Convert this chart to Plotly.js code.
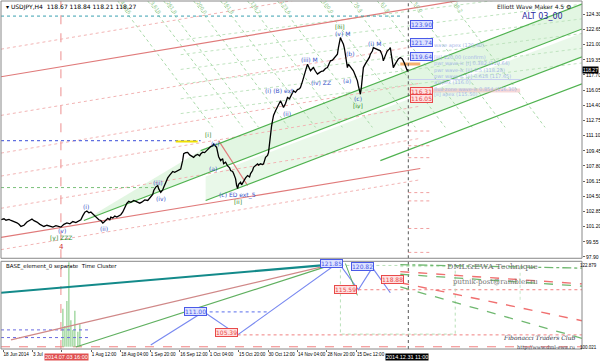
<!DOCTYPE html>
<html><head><meta charset="utf-8">
<script src="https://cdn.plot.ly/plotly-3.0.1.min.js"></script>
<style>html,body{margin:0;padding:0;background:#fff}#c{width:600px;height:361px}</style>
</head><body><div id="c"></div>
<script>
// ---- time axis (bar positions) ----
const tickPos = [2,31.5,61,90.5,120,149.5,179,208.5,238,267.5,297,326.5,356];
const tickText = ["18 Jun 2014","3 Jul","","1 Aug 12:00","18 Aug 04:00","1 Sep 20:00","16 Sep 12:00","1 Oct 04:00","15 Oct 20:00","30 Oct 12:00","14 Nov 04:00","28 Nov 20:00","15 Dec 12:00"];
const mainTicks = [124.30,122.65,121.00,119.35,117.70,116.05,114.40,112.75,111.10,109.45,107.80,106.15,104.50,102.85,101.20,99.55,97.90];

// ---- USDJPY H4 price path ----
const priceX = [0,3,5,8,10,13,16,18,20,23,26,29,31,33,36,39,41,43,46,49,52,55,58,60,63,66,69,72,75,78,80,82,84,86,88,90,92,94,96,98,100,102,103,105,107,109,110,112,114,116,118,120,122,124,126,128,130,133,136,139,141,144,147,150,152,153,155,157,158,160,162,163,165,167,169,170,172,174,176,178,180,182,183,185,187,189,191,193,195,197,199,200,202,204,206,208,210,212,213,215,216,217,218,220,222,223,225,227,229,230,232,233,235,236,237,238,240,241,243,245,247,249,250,252,253,255,257,258,260,262,263,265,267,268,269,270,271,272,273,275,277,279,280,282,283,285,287,289,291,293,295,297,299,300,302,304,306,307,309,310,312,313,315,317,319,321,323,325,327,329,330,332,333,335,337,338,339,340,341,343,344,345,346,347,348,350,352,353,355,357,358,359,360,361,362,363,365,367,369,370,372,373,375,377,379,380,382,383,385,387,389,390,391,392,393,395,397,398,400,402,404,405,406,407,408];
const priceY = [101.95,102.05,101.90,101.98,101.87,101.75,101.62,101.45,101.22,101.35,101.70,101.90,102.02,101.85,101.70,101.45,101.30,101.22,101.35,101.28,101.15,101.30,101.20,101.15,101.45,101.60,101.50,101.75,101.65,101.87,101.95,102.40,102.78,102.90,102.70,102.78,102.55,102.40,102.10,101.95,101.87,101.60,101.69,101.95,102.10,101.95,102.23,102.15,102.35,102.25,102.42,102.50,102.80,103.30,103.72,103.95,103.85,104.04,103.90,103.75,103.86,104.10,104.05,104.40,104.70,105.13,105.50,105.67,105.30,104.94,105.20,105.49,106.10,106.50,106.80,106.97,107.20,107.10,107.25,107.30,107.45,108.40,109.14,109.25,109.28,109.00,108.85,108.74,108.95,109.05,108.90,109.11,109.30,109.25,109.47,109.70,109.90,110.01,110.19,109.95,109.83,109.30,108.80,108.38,108.60,108.06,108.20,107.80,107.60,107.30,107.20,106.97,106.40,105.70,105.35,105.80,106.03,105.75,106.21,106.50,106.76,106.60,106.97,107.30,107.66,107.85,108.03,107.90,108.03,107.95,108.03,108.74,108.95,109.28,110.50,111.31,112.10,112.72,113.30,113.81,114.30,114.60,114.89,114.40,114.17,114.60,115.25,115.10,115.60,115.98,115.80,116.10,116.20,116.33,117.00,117.80,118.40,118.87,118.40,118.15,118.40,118.50,118.10,117.79,117.95,118.10,118.15,118.40,118.50,118.90,119.23,119.30,119.42,119.70,119.96,120.67,121.20,121.76,121.50,121.04,120.60,119.96,119.20,118.50,118.87,118.60,118.40,118.15,117.60,117.06,116.50,115.98,115.60,116.40,117.42,118.50,118.90,119.23,119.60,119.96,120.30,120.67,120.55,120.50,120.40,120.32,119.80,119.23,119.80,120.32,120.50,120.67,119.90,119.20,118.50,118.90,119.23,119.45,119.59,119.45,119.00,118.69,118.40,118.15,118.27];

// ---- channel lines on the price panel (start/end bar, start/end price) ----
const redSolidX = [[0,582],[0,420],[218,247]];
const redSolidY = [[117.50,128.02],[100.03,107.52],[110.55,105.67]];
const greenChanX = [[200,582],[83,582],[205,582],[380,582]];
const greenChanY = [[109.47,125.41],[101.87,122.70],[104.04,119.67],[108.38,116.74]];
const pinkDotX = [[0,420],[0,420],[0,420],[0,420],[0,420],[0,420]];
const pinkDotY = [[120.50,128.1],[113.30,120.9],[109.20,116.8],[106.70,114.3],[103.20,110.8],[98.70,106.3]];
const fanTopX = [117,147,163,193,220,247,277,320,350,377,410,450];
const fanLabels = ["4.236","3.618","261.8","200.0","161.8","138.2","123.6","100.0","76.4","61.8","50.0","38.2"];

// ---- lower panel (Time Cluster) ----
const tealX=[0,330], tealY=[114.68,122.01];
const lowRedX=[10,335], lowRedY=[102.38,122.28];
const lowGreenX=[75,335], lowGreenY=[100.54,122.28];
const blueZigX=[150,203,237,338,358,372,390];
const blueZigY=[101.09,109.72,103.70,122.54,115.47,121.23,114.68];
const projRedX=[[400,582],[400,582]], projRedY=[[117.30,107.40],[120.20,117.00]];
const projGreenX=[[400,582],[400,582],[400,582]], projGreenY=[[116.20,102.80],[122.00,121.10],[119.50,116.40]];
const clusterX=[62,64,66,68,70,72,74,77,79];
const clusterH=[110.5,106.0,112.5,122.6,107.5,105.0,110.0,104.5,106.5];

const traces=[];
function seg(xs,ys,color,width,dash,ax,opacity){
  traces.push({x:xs,y:ys,type:'scatter',mode:'lines',yaxis:ax||'y',hoverinfo:'skip',showlegend:false,
    opacity:opacity==null?1:opacity,line:{color:color,width:width,dash:dash||'solid'}});
}
traces.push({x:greenChanX[1],y:greenChanY[1],type:'scatter',mode:'lines',line:{width:0},hoverinfo:'skip',showlegend:false});
traces.push({x:greenChanX[0],y:greenChanY[0],type:'scatter',mode:'lines',line:{width:0},fill:'tonexty',fillcolor:'rgba(190,235,190,0.45)',hoverinfo:'skip',showlegend:false});
traces.push({x:greenChanX[2],y:greenChanY[2],type:'scatter',mode:'lines',line:{width:0},hoverinfo:'skip',showlegend:false});
traces.push({x:[greenChanX[2][0],greenChanX[2][1]],y:[greenChanY[2][0]+2.6,greenChanY[2][1]+2.6],type:'scatter',mode:'lines',line:{width:0},fill:'tonexty',fillcolor:'rgba(200,238,200,0.40)',hoverinfo:'skip',showlegend:false});

pinkDotX.forEach((xs,i)=>seg(xs,pinkDotY[i],'#f2b4b4',1,'dot'));
fanTopX.forEach((x0,i)=>seg([x0,x0+95],[125.74,112.0],'#a9d9a9',1,'dot'));
for(let k=0;k<6;k++){seg([180,582],[113.5+k*1.6,129.0+k*1.6-10],'#bfe3bf',1,'dot');}
redSolidX.forEach((xs,i)=>seg(xs,redSolidY[i],'#e07a7a',1.2));
greenChanX.forEach((xs,i)=>seg(xs,greenChanY[i],'#4fb24f',1.2));
seg([0,400],[124.10,124.10],'#3aa0b0',1,'dot');
seg([0,200],[110.55,110.55],'#6070e0',1.2,'dot');
seg([0,155],[105.45,105.45],'#7ac07a',1,'dot');
seg([175,197],[110.45,110.45],'#f0e000',2);
seg([400,420],[118.90,118.90],'#f5b070',3);
[111.6,110.0,108.7,104.9,104.0,101.0,98.4].forEach(v=>seg([408,430],[v,v],'#f0a0a0',1,'dot'));
seg([408,520],[116.0,116.0],'#f0b0b0',4,'solid',null,0.5);
seg([408,520],[117.2,117.2],'#c8d0f0',1);
traces.push({x:priceX,y:priceY,type:'scatter',mode:'lines',line:{color:'#000',width:1.3},hoverinfo:'skip',showlegend:false});
seg([408,408],[97.76,125.74],'#555',1,'dot');
seg([60,60],[97.76,125.74],'#f0a0a0',1.2,'dash');

seg([60,60],[100.021,122.879],'#f0a0a0',1.2,'dash','y2');
seg([408,408],[100.021,122.879],'#555',1,'dot','y2');
seg([0,582],[100.6,100.6],'#f08080',1,'dash','y2');
clusterX.forEach((x,i)=>seg([x,x],[100.6,clusterH[i]],'#8fd08f',1.2,'solid','y2'));
seg([0,90],[105.0,105.0],'#6a6ae0',1,'dot','y2');
seg([0,90],[103.0,103.0],'#6a6ae0',1,'dot','y2');
seg(lowRedX,lowRedY,'#d08888',1.2,'solid','y2');
seg(lowGreenX,lowGreenY,'#60b060',1.2,'solid','y2');
seg(tealX,tealY,'#138a8a',2.2,'solid','y2');
seg(blueZigX,blueZigY,'#7a8af0',1.2,'solid','y2');
seg([203,267],[109.72,109.72],'#7a8af0',1.2,'dot','y2');
seg([237,582],[103.70,103.70],'#f08080',1,'dot','y2');
seg([358,582],[115.47,115.47],'#f08080',1,'dot','y2');
seg([340,455,455,340,340],[121.8,121.8,103.9,103.9,121.8],'#b8e0b8',1,'dot','y2');
seg([400,520,520],[121.5,121.5,112.0],'#c8e8c8',1,'dot','y2');
projRedX.forEach((xs,i)=>seg(xs,projRedY[i],'#f07070',1.4,'dash','y2'));
projGreenX.forEach((xs,i)=>seg(xs,projGreenY[i],'#70b870',1.3,i==1?'dashdot':'dash','y2'));
seg([345,357],[122.3,114.0],'#60b060',1,'solid','y2');

const A=[];
function lab(x,y,t,c,sz,ax,extra){A.push(Object.assign({x:x,y:y,xref:'x',yref:ax||'y',text:t,showarrow:false,font:{family:'DejaVu Sans',size:sz||6,color:c||'#3a55c8'}},extra||{}));}
function ppx(yp){return 125.74-0.10848*yp;}
lab(60,ppx(238),'[y] ZZZ','#2a8a2a');
lab(61,ppx(230),'(v)');
lab(61,ppx(247),'4','#d03030',7);
lab(85,ppx(206),'(i)');
lab(103,ppx(228),'(ii)');
lab(157,ppx(182),'(iii)');
lab(160,ppx(198),'(iv)');
lab(207,ppx(134),'[i]','#2a8a2a');
lab(214,ppx(143),'(v)');
lab(212,ppx(168),'(a)');
lab(237,ppx(194),'(c) ED ext_5');
lab(237,ppx(201),'[ii]','#2a8a2a');
lab(279,ppx(90),'(i) (B) ext');
lab(286,ppx(113),'(ii)');
lab(309,ppx(59),'(iii) M');
lab(321,ppx(82),'(iv) ZZ');
lab(350,ppx(53),'(b)');
lab(347,ppx(80),'(a)');
lab(340,ppx(26),'[iii]','#2a8a2a');
lab(342,ppx(33),'(v) M');
lab(358,ppx(98),'(c)');
lab(358,ppx(105),'[iv]','#2a8a2a');
lab(374,ppx(43),'(i) M');
fanTopX.forEach((x0,i)=>lab(x0+8,ppx(6),fanLabels[i],'#8cc88c',5,'y',{textangle:55}));
[['123.90',24,'#4a5ae8','#dde2ff'],['121.74',42,'#4a5ae8','#dde2ff'],['119.64',56,'#4a5ae8','#dde2ff'],['116.31',91,'#e84a4a','#ffe0e0'],['116.05',98,'#e84a4a','#ffe0e0']].forEach(b=>{
  lab(421,ppx(b[1]),b[0],b[2],6,'y',{bgcolor:b[3],bordercolor:b[2],borderwidth:1,borderpad:0});
});
[['wave apex (120.40)',45],['[iii] 120.00 (confirm)',56],['pwr wave-ic [i] 0.382 (119.64)',63],['pwr wave-ic [ii] 0.5 (118.28)',70],['pwr wave-ic [ii] 0.618 (117.65)',76],['a.apex (116.0)',82],['flux zone wave-ic 0.854 (116.30)',88],['[ii] apex (115.50)',94]].forEach(t=>{
  lab(432,ppx(t[1]),t[0],'#a8b8e8',5,'y',{xanchor:'left'});
});
A.push({xref:'paper',yref:'paper',x:0.005,y:1,xanchor:'left',yanchor:'top',text:'▾ USDJPY,H4  118.67 118.84 118.21 118.27',showarrow:false,font:{family:'DejaVu Sans',size:6,color:'#000'}});
A.push({xref:'paper',yref:'paper',x:0.985,y:1,xanchor:'right',yanchor:'top',text:'Elliott Wave Maker 4.5 ⚙',showarrow:false,font:{family:'DejaVu Sans',size:6,color:'#222'}});
A.push({xref:'paper',yref:'paper',x:0.97,y:0.975,xanchor:'right',yanchor:'top',text:'ALT 03_00',showarrow:false,font:{family:'DejaVu Sans',size:8,color:'#2a2aa0'}});
A.push({xref:'paper',yref:'y',x:1,y:118.27,xanchor:'left',text:'118.27',showarrow:false,bgcolor:'#000',font:{family:'Liberation Sans',size:5,color:'#fff'},borderpad:0});
A.push({xref:'paper',yref:'paper',x:0.005,y:0.252,xanchor:'left',yanchor:'top',text:'BASE_element_0 separate  Time Cluster',showarrow:false,font:{family:'DejaVu Sans',size:5.5,color:'#000'}});
A.push({xref:'x',yref:'y2',x:540,y:121.4,xanchor:'right',text:'DML&EWA Technique',showarrow:false,font:{family:'DejaVu Serif',size:8,color:'#777'}});
A.push({xref:'x',yref:'y2',x:540,y:117.6,xanchor:'right',text:'putnik-post@rambler.ru',showarrow:false,font:{family:'DejaVu Serif',size:7,color:'#777'}});
A.push({xref:'x',yref:'y2',x:578,y:102.9,xanchor:'right',text:'<i>Fibonacci Traders Club</i>',showarrow:false,font:{family:'DejaVu Serif',size:6,color:'#334'}});
A.push({xref:'x',yref:'y2',x:578,y:100.5,xanchor:'right',text:'http://www.dml-ewa.ru',showarrow:false,font:{family:'DejaVu Serif',size:5,color:'#334'}});
lab(195,109.72,'111.00','#4a5ae8',6,'y2',{bgcolor:'#dde2ff',bordercolor:'#4a5ae8',borderwidth:1,borderpad:0});
lab(226,104.3,'105.39','#e84a4a',6,'y2',{bgcolor:'#ffe0e0',bordercolor:'#e84a4a',borderwidth:1,borderpad:0});
lab(331,122.3,'121.85','#4a5ae8',6,'y2',{bgcolor:'#dde2ff',bordercolor:'#4a5ae8',borderwidth:1,borderpad:0});
lab(345,115.47,'115.59','#e84a4a',6,'y2',{bgcolor:'#ffe0e0',bordercolor:'#e84a4a',borderwidth:1,borderpad:0});
lab(362,121.6,'120.82','#4a5ae8',6,'y2',{bgcolor:'#dde2ff',bordercolor:'#4a5ae8',borderwidth:1,borderpad:0});
lab(392,118.2,'118.88','#e84a4a',6,'y2',{bgcolor:'#ffe0e0',bordercolor:'#e84a4a',borderwidth:1,borderpad:0});
A.push({xref:'paper',yref:'paper',x:1.029,y:0.252,xanchor:'right',yanchor:'top',text:'122.879',showarrow:false,font:{family:'Liberation Sans',size:4.5,color:'#000'}});
A.push({xref:'paper',yref:'paper',x:1.029,y:0.003,xanchor:'right',yanchor:'middle',text:'100.021',showarrow:false,font:{family:'Liberation Sans',size:4.5,color:'#000'}});
A.push({xref:'x',yref:'paper',x:43,y:-0.012,xanchor:'left',yanchor:'top',text:'2014.07.03 16:00',showarrow:false,bgcolor:'#e05050',font:{family:'Liberation Sans',size:5.5,color:'#fff'},borderpad:0});
A.push({xref:'x',yref:'paper',x:385,y:-0.012,xanchor:'left',yanchor:'top',text:'2014.12.31 11:00',showarrow:false,bgcolor:'#000',font:{family:'Liberation Sans',size:5.5,color:'#fff'},borderpad:0});

const shapes=[
 {type:'rect',xref:'paper',yref:'paper',x0:0,x1:1,y0:0.2607,y1:1,line:{color:'#888',width:1}},
 {type:'rect',xref:'paper',yref:'paper',x0:0,x1:1,y0:0,y1:0.252,line:{color:'#888',width:1}},
];
const layout={width:600,height:361,margin:{l:1,r:18,t:1,b:12},paper_bgcolor:'#fff',plot_bgcolor:'#fff',
 showlegend:false,shapes:shapes,annotations:A,
 xaxis:{range:[0,582],anchor:'y2',tickvals:tickPos,ticktext:tickText,ticks:'outside',ticklen:2,tickcolor:'#666',tickangle:0,
   ticklabelposition:'outside right',showgrid:false,zeroline:false,tickfont:{family:'Liberation Sans',size:4.6,color:'#000'}},
 yaxis:{domain:[0.2607,1],range:[97.76,125.74],side:'right',anchor:'x',tickvals:mainTicks,ticktext:mainTicks.map(v=>v.toFixed(2)),
   ticks:'outside',ticklen:2,tickcolor:'#666',showgrid:false,zeroline:false,tickfont:{family:'Liberation Sans',size:5,color:'#000'}},
 yaxis2:{domain:[0,0.252],range:[100.021,122.879],side:'right',anchor:'x',showticklabels:false,showgrid:false,zeroline:false}
};
Plotly.newPlot('c',traces,layout,{staticPlot:true});
</script></body></html>
